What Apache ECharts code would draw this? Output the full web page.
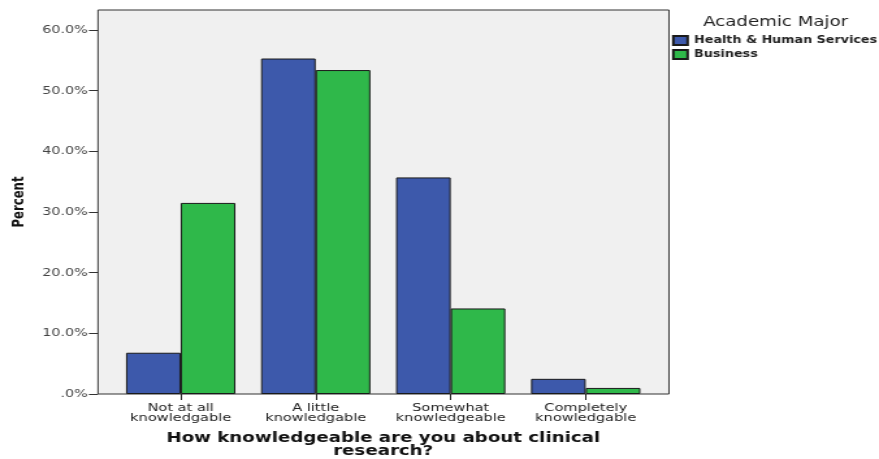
<!DOCTYPE html>
<html>
<head>
<meta charset="utf-8">
<script src="https://cdn.jsdelivr.net/npm/echarts@6/dist/echarts.min.js"></script>
<style>
  html, body { margin: 0; padding: 0; background: #ffffff; overflow: hidden; }
  #wrap { width: 879px; height: 459px; overflow: hidden; }
  #chart { width: 676px; height: 459px; transform: scaleX(1.3003); transform-origin: 0 0; }
</style>
</head>
<body>
<div id="wrap"><div id="chart"></div></div>
<script>
// ---- data ----
const categories = ['Not at all\nknowledgable', 'A little\nknowledgable', 'Somewhat\nknowledgeable', 'Completely\nknowledgable'];
const seriesNames = ['Health & Human Services', 'Business'];
const healthHuman = [6.8, 55.3, 35.7, 2.5];
const business = [31.5, 53.4, 14.1, 1.0];
const yTickValues = [0, 10, 20, 30, 40, 50, 60];
const yMax = 63.3;
const legendTitle = 'Academic Major';
const xTitle = 'How knowledgeable are you about clinical\nresearch?';
const yTitle = 'Percent';

// ---- layout (reference pixels converted to the horizontally scaled space) ----
const S = 879 / 676;
const sx = x => x / S;
const frameLeft = sx(98), frameRight = sx(669);
const catFirst = sx(180.7), catLast = sx(585.7);
const step = (catLast - catFirst) / 3;
const dataLeft = catFirst - step / 2;
const dataWidth = step * 4;
const plotTop = 10, plotH = 384;

const font = 'DejaVu Sans, Verdana, sans-serif';
const chart = echarts.init(document.getElementById('chart'), null, { renderer: 'canvas' });
chart.setOption({
  animation: false,
  title: {
    text: legendTitle, left: sx(703), top: 15, padding: 0,
    textStyle: { fontFamily: font, fontSize: 14, fontWeight: 'normal', color: '#222' }
  },
  legend: {
    data: seriesNames, orient: 'vertical', left: sx(672), top: 35, padding: 0,
    itemWidth: 11, itemHeight: 9, itemGap: 3, icon: 'rect',
    textStyle: { fontFamily: font, fontSize: 9.8, fontWeight: 'bold', color: '#222' }
  },
  grid: [
    { left: frameLeft, top: plotTop, width: frameRight - frameLeft, height: plotH, show: true,
      backgroundColor: '#f0f0f0', borderColor: '#333', borderWidth: 1,
      containLabel: false, outerBoundsMode: 'none' },
    { left: dataLeft, top: plotTop, width: dataWidth, height: plotH,
      containLabel: false, outerBoundsMode: 'none' }
  ],
  xAxis: [
    { gridIndex: 0, type: 'value', show: false },
    { gridIndex: 1, type: 'category', data: categories,
      axisLine: { show: false },
      axisTick: { show: true, alignWithLabel: true, length: 6, lineStyle: { color: '#222' } },
      axisLabel: { interval: 0, fontFamily: font, fontSize: 11.2, lineHeight: 10, color: '#222', margin: 9 },
      name: xTitle, nameLocation: 'middle', nameGap: 37.5,
      nameTextStyle: { fontFamily: font, fontSize: 14, fontWeight: 'bold', lineHeight: 13, color: '#111' }
    }
  ],
  yAxis: [
    { gridIndex: 0, type: 'value', show: false },
    { gridIndex: 1, type: 'value', min: 0, max: yMax, interval: 10, offset: dataLeft - frameLeft,
      axisLine: { show: false },
      axisTick: { show: true, length: 7, customValues: yTickValues, lineStyle: { color: '#333' } },
      axisLabel: { customValues: yTickValues, fontFamily: font, fontSize: 11, color: '#444', margin: 8,
        formatter: v => (v === 0 ? '.0%' : v.toFixed(1) + '%') },
      splitLine: { show: false },
      name: yTitle, nameLocation: 'middle', nameGap: 52, nameRotate: 90,
      nameTextStyle: { fontFamily: "'Liberation Sans Narrow', 'DejaVu Sans Condensed', sans-serif",
        fontSize: 13, fontWeight: 'bold', color: '#111' }
    }
  ],
  series: [
    { name: seriesNames[0], type: 'bar', xAxisIndex: 1, yAxisIndex: 1, data: healthHuman,
      barGap: '0%', barCategoryGap: '19%',
      itemStyle: { color: '#3d59ab', borderColor: '#1a1a1a', borderWidth: 1 } },
    { name: seriesNames[1], type: 'bar', xAxisIndex: 1, yAxisIndex: 1, data: business,
      barGap: '0%', barCategoryGap: '19%',
      itemStyle: { color: '#2fb84a', borderColor: '#1a1a1a', borderWidth: 1 } }
  ]
});
</script>
</body>
</html>
